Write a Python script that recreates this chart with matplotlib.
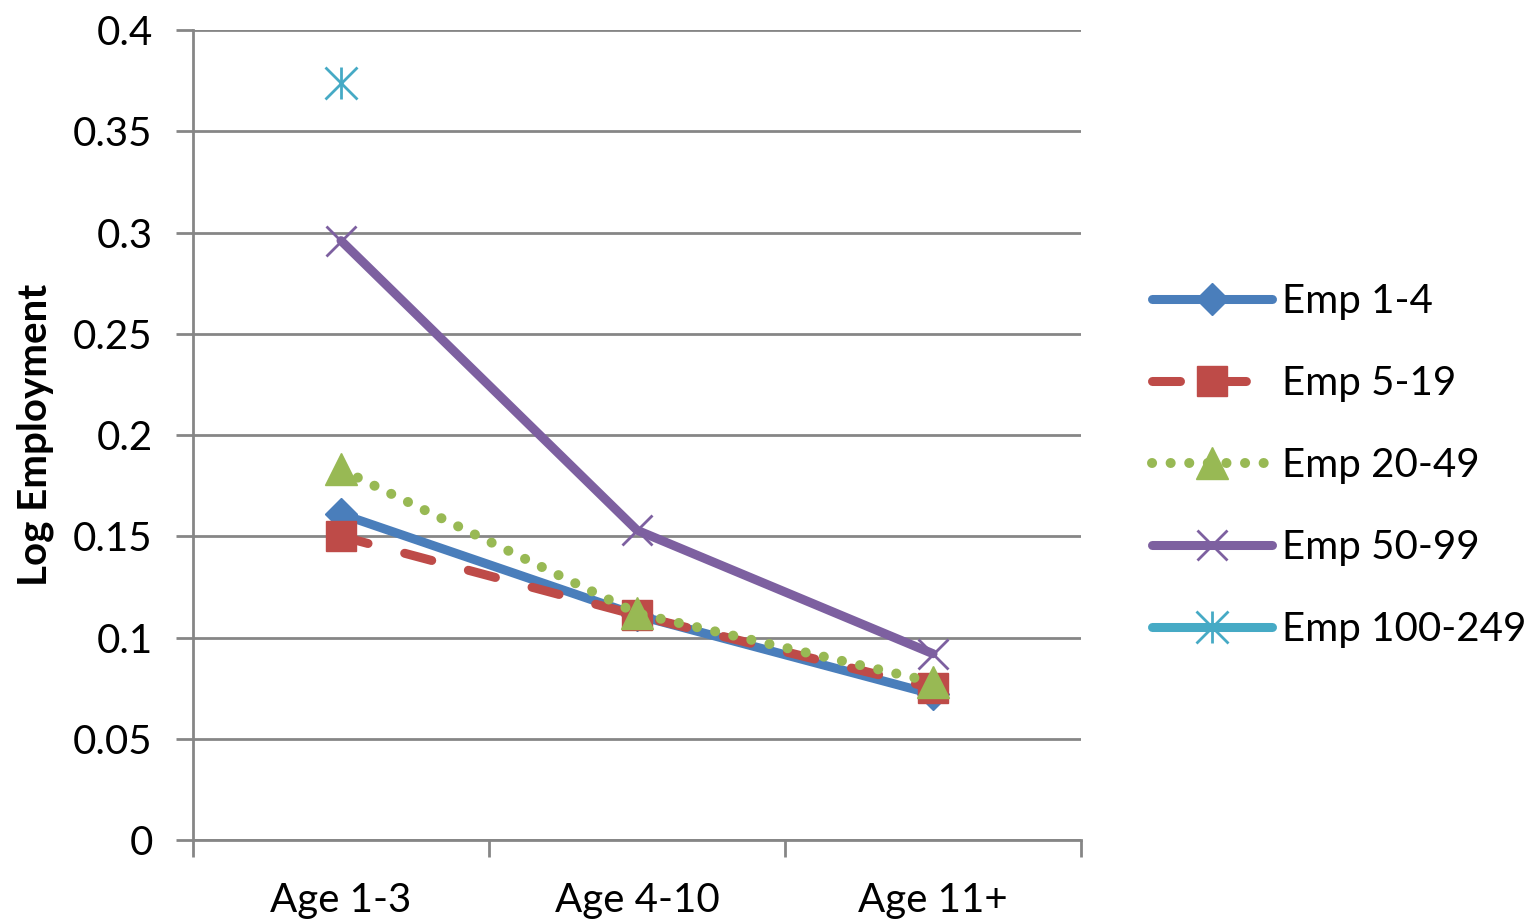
import matplotlib.pyplot as plt
from matplotlib.lines import Line2D
from matplotlib.legend_handler import HandlerTuple
import numpy as np

plt.rcParams['font.family'] = ['Lato', 'DejaVu Sans']

categorias = ['Age 1-3', 'Age 4-10', 'Age 11+']
emp_1_4 = [0.161, 0.111, 0.072]
emp_5_19 = [0.150, 0.111, 0.075]
emp_20_49 = [0.183, 0.112, 0.078]
emp_50_99 = [0.296, 0.153, 0.092]
emp_100_249 = [0.374, np.nan, np.nan]

# nombre, valores, color, estilo, marcador, grosor, tamaño marcador
series = [
    ('Emp 1-4', emp_1_4, '#4A7EBB', '-', 'D', 6.5, 16),
    ('Emp 5-19', emp_5_19, '#BE4B48', (0, (3.1, 4.2)), 's', 6.5, 22),
    ('Emp 20-49', emp_20_49, '#98B954', (0, (0.01, 1.85)), '^', 7.2, 23),
    ('Emp 50-99', emp_50_99, '#7D60A0', '-', 'x', 6.5, 21),
    ('Emp 100-249', emp_100_249, '#46AAC5', '-', 'x', 6.5, 23),
]

fig = plt.figure(figsize=(15.28, 9.21), dpi=100)
ax = fig.add_axes([0.1263, 0.0879, 0.5812, 0.8795])

x = np.arange(len(categorias)) + 0.5
handles = []
for i, (nombre, vals, color, ls, mk, lw, ms) in enumerate(series):
    ax.plot(x, vals, color=color, linestyle=ls, linewidth=lw,
            dash_capstyle='round', solid_capstyle='round', zorder=3 + i)
    mew = 2 if mk == 'x' else 1
    ax.plot(x, vals, linestyle='none', marker=mk, markersize=ms,
            color=color, markeredgecolor=color, markeredgewidth=mew, zorder=3 + i)
    if nombre == 'Emp 100-249':
        # marcador asterisco
        ax.plot(x, vals, linestyle='none', marker='|', markersize=ms,
                color=color, markeredgewidth=mew, zorder=3 + i)
        h = (Line2D([], [], color=color, linestyle=ls, linewidth=lw,
                    solid_capstyle='round'),
             Line2D([], [], linestyle='none', marker='x', markersize=ms,
                    color=color, markeredgewidth=mew),
             Line2D([], [], linestyle='none', marker='|', markersize=ms,
                    color=color, markeredgewidth=mew))
    else:
        h = Line2D([], [], color=color, linestyle=ls, linewidth=lw,
                   dash_capstyle='round', solid_capstyle='round',
                   marker=mk, markersize=ms,
                   markeredgecolor=color, markeredgewidth=mew)
    handles.append(h)

ax.set_xlim(0, 3)
ax.set_ylim(0, 0.4)
ax.set_yticks(np.arange(0, 0.41, 0.05))
ax.set_yticklabels(['0', '0.05', '0.1', '0.15', '0.2', '0.25', '0.3', '0.35', '0.4'])
ax.set_xticks([0, 1, 2, 3])
ax.set_xticklabels([])
ax.set_xticks(x, minor=True)
ax.set_xticklabels(categorias, minor=True)
ax.tick_params(axis='x', which='minor', length=0, labelsize=29, pad=30)
ax.tick_params(axis='x', which='major', length=12, width=2, color='#868686')
ax.tick_params(axis='y', length=12, width=2, color='#868686', labelsize=29, pad=17)

ax.grid(axis='y', color='#868686', linewidth=2)
ax.set_axisbelow(True)
for s in ['top', 'right']:
    ax.spines[s].set_visible(False)
for s in ['left', 'bottom']:
    ax.spines[s].set_color('#868686')
    ax.spines[s].set_linewidth(2)

fig.text(35 / 1528, 1 - 435 / 921, 'Log Employment', rotation=90,
         ha='center', va='center', fontsize=29, fontweight='bold')

fig.legend(handles, [s[0] for s in series], loc='center left',
           bbox_to_anchor=(1152 / 1528, 1 - 465.5 / 921), frameon=False, fontsize=29,
           handlelength=2.97, handletextpad=0.27, labelspacing=1.12,
           borderpad=0, borderaxespad=0,
           handler_map={tuple: HandlerTuple(ndivide=1)})

fig.savefig('out.png', dpi=100)
